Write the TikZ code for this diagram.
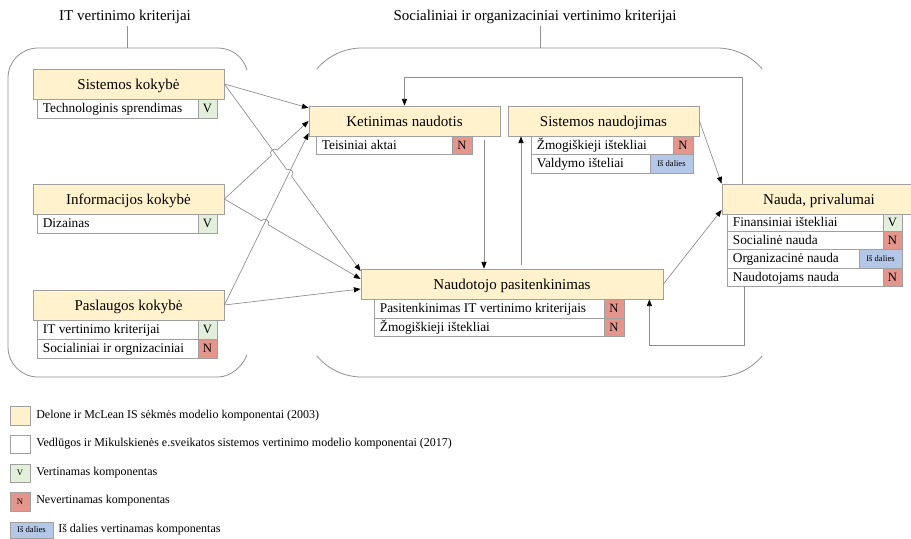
\documentclass[tikz,border=0pt]{standalone}
\usepackage{fontspec}
\setmainfont{Liberation Serif}
\usetikzlibrary{fit,calc,arrows.meta}
\definecolor{ttlfill}{HTML}{FFF2CC}
\definecolor{boxline}{HTML}{A0A0A0}
\definecolor{vfill}{HTML}{E2EFDA}
\definecolor{nfill}{HTML}{E5968C}
\definecolor{bfill}{HTML}{B4C7E7}
\definecolor{wire}{HTML}{8C8C8C}
\definecolor{frame}{HTML}{909090}
\begin{document}
\begin{tikzpicture}[x=0.75pt,y=-0.75pt,
  ttl/.style={draw=boxline,fill=ttlfill,inner sep=0pt,line width=0.6pt},
  ttltxt/.style={anchor=base,inner sep=0pt,font=\fontsize{11.25}{13}\selectfont},
  row/.style={draw=boxline,fill=white,inner sep=0pt,line width=0.6pt},
  rowtxt/.style={anchor=base west,inner sep=0pt,font=\fontsize{10}{12}\selectfont},
  cellv/.style={draw=boxline,fill=vfill,inner sep=0pt,line width=0.6pt},
  celln/.style={draw=boxline,fill=nfill,inner sep=0pt,line width=0.6pt},
  cellb/.style={draw=boxline,fill=bfill,inner sep=0pt,line width=0.6pt},
  celltxt/.style={anchor=base,inner sep=0pt,font=\fontsize{9.5}{11}\selectfont},
  smalltxt/.style={anchor=base,inner sep=0pt,font=\fontsize{6.4}{7.5}\selectfont},
  legsq/.style={draw=boxline,inner sep=0pt,line width=0.6pt},
  legmark/.style={inner sep=0pt,font=\fontsize{6.5}{7.5}\selectfont},
  hdr/.style={inner sep=0pt,font=\fontsize{11.25}{13}\selectfont},
  legtxt/.style={anchor=west,inner sep=0pt,font=\fontsize{9}{11}\selectfont},
  conn/.style={draw=wire,line width=0.5pt,-{Triangle[length=5pt,width=3.8pt,color=black]}},
  bracket/.style={draw=frame,line width=0.6pt},
  tb/.style={yshift=-4.4pt},
  rb/.style={xshift=4.5pt,yshift=-3.2pt},
  cb/.style={yshift=-3.2pt},
  sb/.style={yshift=-2.4pt},
]
\useasboundingbox (0,0) rectangle (911,539);

% group headings and their brackets
\node[hdr] (h1) at (125,17) {IT vertinimo kriterijai};
\node[hdr] (h2) at (535,17) {Socialiniai ir organizaciniai vertinimo kriterijai};
\coordinate (t1) at (127,48);
\coordinate (t2) at (540,48);
\draw[bracket] ($(t1 |- h1.south)+(0,2)$) -- (t1);
\draw[bracket] ($(t2 |- h2.south)+(0,2)$) -- (t2);

\draw[bracket] (247,70.2) .. controls (243.5,57.1) and (231.6,48) .. (218,48) -- (38,48)
  .. controls (21.4,48) and (8,61.4) .. (8,78) -- (8,347)
  .. controls (8,363.6) and (21.4,377) .. (38,377) -- (218,377)
  .. controls (231.6,377) and (243.5,364.9) .. (247,354.8);
\draw[bracket] (316.8,69.1) .. controls (328,55.7) and (344.6,48) .. (362,48) -- (717,48)
  .. controls (734.4,48) and (751,55.7) .. (762.2,69.1);
\draw[bracket] (316.8,355.9) .. controls (328,369.3) and (344.6,377) .. (362,377) -- (717,377)
  .. controls (734.4,377) and (751,369.3) .. (762.2,355.9);

% Sistemos kokybe
\node[row, fit={(37,99)(217,118)}] (skr1) {};
\node[rowtxt] (skt1) at ([rb]skr1.west) {Technologinis sprendimas};
\node[cellv, fit={(198,99)(217,118)}] (skc1) {};
\node[celltxt] (skm1) at ([cb]skc1.center) {V};
\node[ttl, fit={(33,69)(224,99)}] (sk) {};
\node[ttltxt] (skl) at ([tb]sk.center) {Sistemos kokybė};

% Informacijos kokybe
\node[row, fit={(37,214)(217,233)}] (ikr1) {};
\node[rowtxt] (ikt1) at ([rb]ikr1.west) {Dizainas};
\node[cellv, fit={(198,214)(217,233)}] (ikc1) {};
\node[celltxt] (ikm1) at ([cb]ikc1.center) {V};
\node[ttl, fit={(33,184)(224,214)}] (ik) {};
\node[ttltxt] (ikl) at ([tb]ik.center) {Informacijos kokybė};

% Paslaugos kokybe
\node[row, fit={(37,320)(217,339)}] (pkr1) {};
\node[rowtxt] (pkt1) at ([rb]pkr1.west) {IT vertinimo kriterijai};
\node[cellv, fit={(198,320)(217,339)}] (pkc1) {};
\node[celltxt] (pkm1) at ([cb]pkc1.center) {V};
\node[row, fit={(37,339)(217,358)}] (pkr2) {};
\node[rowtxt] (pkt2) at ([rb]pkr2.west) {Socialiniai ir orgnizaciniai};
\node[celln, fit={(198,339)(217,358)}] (pkc2) {};
\node[celltxt] (pkm2) at ([cb]pkc2.center) {N};
\node[ttl, fit={(33,290)(224,320)}] (pk) {};
\node[ttltxt] (pkl) at ([tb]pk.center) {Paslaugos kokybė};

% Ketinimas naudotis
\node[row, fit={(316,136)(472,154)}] (ketr1) {};
\node[rowtxt] (kett1) at ([rb]ketr1.west) {Teisiniai aktai};
\node[celln, fit={(452,136)(472,154)}] (ketc1) {};
\node[celltxt] (ketm1) at ([cb]ketc1.center) {N};
\node[ttl, fit={(309,106)(500,136)}] (ket) {};
\node[ttltxt] (ketl) at ([tb]ket.center) {Ketinimas naudotis};

% Sistemos naudojimas
\node[row, fit={(531,136)(693,154)}] (snr1) {};
\node[rowtxt] (snt1) at ([rb]snr1.west) {Žmogiškieji ištekliai};
\node[celln, fit={(673,136)(693,154)}] (snc1) {};
\node[celltxt] (snm1) at ([cb]snc1.center) {N};
\node[row, fit={(531,154)(693,173)}] (snr2) {};
\node[rowtxt] (snt2) at ([rb]snr2.west) {Valdymo išteliai};
\node[cellb, fit={(650,154)(693,173)}] (snc2) {};
\node[smalltxt] (snm2) at ([sb]snc2.center) {Iš dalies};
\node[ttl, fit={(508,106)(699,136)}] (sn) {};
\node[ttltxt] (snl) at ([tb]sn.center) {Sistemos naudojimas};

% Nauda, privalumai
\node[row, fit={(727,214)(902,231)}] (nau1) {};
\node[rowtxt] (naut1) at ([rb]nau1.west) {Finansiniai ištekliai};
\node[cellv, fit={(883,214)(902,231)}] (nauc1) {};
\node[celltxt] (naum1) at ([cb]nauc1.center) {V};
\node[row, fit={(727,231)(902,249)}] (nau2) {};
\node[rowtxt] (naut2) at ([rb]nau2.west) {Socialinė nauda};
\node[celln, fit={(883,231)(902,249)}] (nauc2) {};
\node[celltxt] (naum2) at ([cb]nauc2.center) {N};
\node[row, fit={(727,249)(902,268)}] (nau3) {};
\node[rowtxt] (naut3) at ([rb]nau3.west) {Organizacinė nauda};
\node[cellb, fit={(859,249)(902,268)}] (nauc3) {};
\node[smalltxt] (naum3) at ([sb]nauc3.center) {Iš dalies};
\node[row, fit={(727,268)(902,286)}] (nau4) {};
\node[rowtxt] (naut4) at ([rb]nau4.west) {Naudotojams nauda};
\node[celln, fit={(883,268)(902,286)}] (nauc4) {};
\node[celltxt] (naum4) at ([cb]nauc4.center) {N};
\node[ttl, fit={(722,184)(916,214)}] (nau) {};
\node[ttltxt] (naul) at ([tb]nau.center) {Nauda, privalumai};

% Naudotojo pasitenkinimas
\node[row, fit={(374,299)(624,318)}] (ntr1) {};
\node[rowtxt] (ntt1) at ([rb]ntr1.west) {Pasitenkinimas IT vertinimo kriterijais};
\node[celln, fit={(604,299)(624,318)}] (ntc1) {};
\node[celltxt] (ntm1) at ([cb]ntc1.center) {N};
\node[row, fit={(374,318)(624,336)}] (ntr2) {};
\node[rowtxt] (ntt2) at ([rb]ntr2.west) {Žmogiškieji ištekliai};
\node[celln, fit={(604,318)(624,336)}] (ntc2) {};
\node[celltxt] (ntm2) at ([cb]ntc2.center) {N};
\node[ttl, fit={(361,269)(663,299)}] (nt) {};
\node[ttltxt] (ntl) at ([tb]nt.center) {Naudotojo pasitenkinimas};

% connector end points on the box sides
\coordinate (kin1) at ($(ket.west)+(0,-13)$);
\coordinate (kin3) at ($(ket.west)+(0,12)$);
\coordinate (nin1) at ($(nt.west)+(0,-13)$);
\coordinate (nin2) at ($(nt.west)+(0,-5)$);
\coordinate (nin3) at ($(nt.west)+(0,5)$);

% quality boxes to intention and satisfaction (with line hops at crossings)
\draw[conn] (sk.east) -- (kin1);
\coordinate (hB) at ($(sk.east)!0.4761!(nin1)$);
\draw[conn] (sk.east) -- ($(hB)!3pt!(sk.east)$) to[bend left=90,looseness=1.5] ($(hB)!3pt!(nin1)$) -- (nin1);
\coordinate (hA) at ($(ik.east)!0.5927!(ket.west)$);
\draw[conn] (ik.east) -- ($(hA)!3pt!(ik.east)$) to[bend left=90,looseness=1.5] ($(hA)!3pt!(ket.west)$) -- (ket.west);
\coordinate (hC) at ($(ik.east)!0.2968!(nin2)$);
\draw[conn] (ik.east) -- ($(hC)!3pt!(ik.east)$) to[bend left=90,looseness=1.5] ($(hC)!3pt!(nin2)$) -- (nin2);
\draw[conn] (pk.east) -- (kin3);
\draw[conn] (pk.east) -- (nin3);

% links between the right-hand boxes
\coordinate (kx) at ($(ket.south)+(79.5,0)$);
\draw[conn,shorten <=3pt] (kx) -- (kx |- nt.north);
\coordinate (ux) at ($(sn.south)+(-82.5,0)$);
\draw[conn,shorten <=3pt] (ux |- nt.north) -- (ux);
\draw[conn] (sn.east) -- (nau.north west);
\draw[conn] (nt.east) -- ($(nau.west)+(0,11)$);

% feedback loops from the benefits box
\coordinate (fbt) at ($(nau.north west)+(21,-106)$);
\draw[conn] (fbt |- nau.north) -- (fbt) -| (ket.north);
\coordinate (fbb) at ($(nau4.south west)+(18,59)$);
\coordinate (fbx) at ($(nt.south east)+(-14,0)$);
\draw[conn] (fbb |- nau4.south) -- (fbb) -| (fbx);

% legend
\node[legsq, fill=ttlfill, fit={(10,406)(30,425)}] (l1) {};
\node[legtxt] (lt1) at (36,416) {Delone ir McLean IS sėkmės modelio komponentai (2003)};
\node[legsq, fill=white, fit={(10,435)(30,453)}] (l2) {};
\node[legtxt] (lt2) at (36,444) {Vedlūgos ir Mikulskienės e.sveikatos sistemos vertinimo modelio komponentai (2017)};
\node[legsq, fill=vfill, fit={(10,464)(30,482)}] (l3) {};
\node[legmark] (lm3) at (l3.center) {V};
\node[legtxt] (lt3) at (36,473) {Vertinamas komponentas};
\node[legsq, fill=nfill, fit={(10,492)(30,511)}] (l4) {};
\node[legmark] (lm4) at (l4.center) {N};
\node[legtxt] (lt4) at (36,501) {Nevertinamas komponentas};
\node[legsq, fill=bfill, fit={(10,522)(53,538)}] (l5) {};
\node[legmark] (lm5) at (l5.center) {Iš dalies};
\node[legtxt] (lt5) at (58,530) {Iš dalies vertinamas komponentas};
\end{tikzpicture}
\end{document}
